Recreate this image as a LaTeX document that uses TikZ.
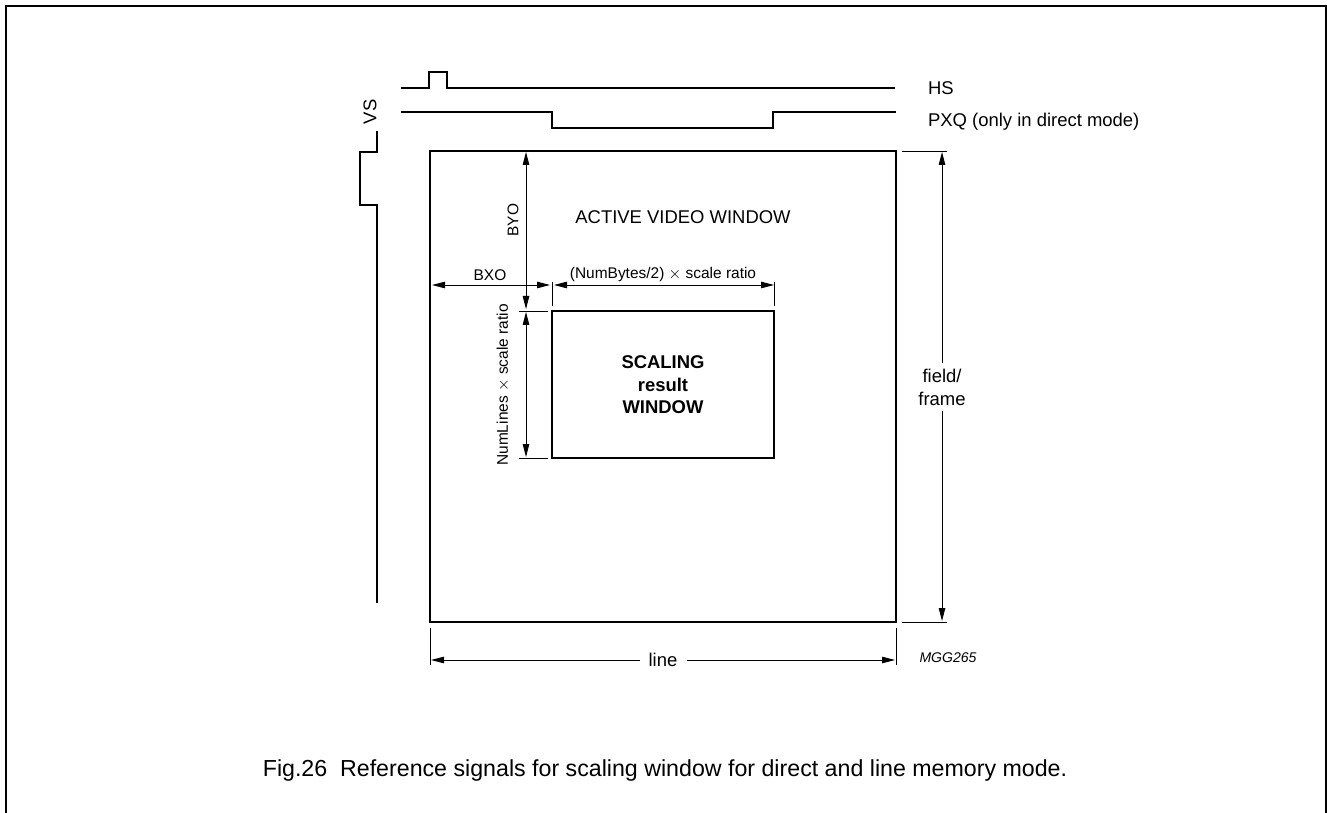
\documentclass[tikz,border=0pt]{standalone}
\usepackage{fontspec}
\setmainfont{Liberation Sans}
\usetikzlibrary{arrows.meta}

\begin{document}
\begin{tikzpicture}[x=0.02cm,y=-0.02cm,
        signal/.style={line width=.8pt},
        window/.style={line width=1.4pt},
        dim/.style={line width=.5pt,{Triangle[length=2.6mm,width=1.3mm]}-{Triangle[length=2.6mm,width=1.3mm]}},
        half dim/.style={line width=.5pt,-{Triangle[length=2.6mm,width=1.3mm]}},
        ext/.style={line width=.5pt},
        label/.style={font=\fontsize{10.5}{13}\selectfont,inner sep=1pt,align=center},
        small label/.style={font=\fontsize{8.8}{11}\selectfont,inner sep=1pt}]
        \useasboundingbox (0,0) rectangle (1327,813);
        % frame round the figure, open at the bottom
        \draw[line width=1.1pt] (6,813) -- (6,6) -- (1326,6) -- (1326,813);

        % reference signals
        \draw[signal] (401,88) -- (429,88) -- (429,72) -- (447,72) -- (447,88) -- (895,88);
        \draw[signal] (401,112) -- (552,112) -- (552,128) -- (773,128) -- (773,112) -- (896,112);
        \draw[signal] (377,131) -- (377,152) -- (360,152) -- (360,205) -- (377,205) -- (377,603);
        \node[label,anchor=west] (hs) at (926,88) {HS};
        \node[label,anchor=west] (pxq) at (926,122) {PXQ (only in direct mode)};
        \node[label,rotate=90] (vs) at (370,112) {VS};

        % active video window
        \coordinate (aw nw) at (430,151);
        \coordinate (aw se) at (896,622);
        \draw[window] (aw nw) rectangle (aw se);
        \node[label] (active) at (683,217) {ACTIVE VIDEO WINDOW};

        % scaling result window
        \coordinate (sw nw) at (552,311);
        \coordinate (sw se) at (774,458);
        \draw[line width=.9pt] (sw nw) rectangle (sw se);
        \node[label,font=\fontsize{10.5}{12.8}\selectfont\bfseries] (scaling) at (663,385) {SCALING\\result\\WINDOW};

        % offsets BXO and BYO
        \coordinate (bxo l) at (432,285);
        \coordinate (bxo r) at (550,285);
        \coordinate (byo t) at (526,152);
        \coordinate (byo b) at (526,309);
        \draw[dim] (bxo l) -- (bxo r);
        \draw[dim] (byo t) -- (byo b);
        \node[small label] (bxo) at (490,275) {BXO};
        \node[small label,rotate=90] (byo) at (513,220) {BYO};

        % size of the scaling window
        \coordinate (nb l) at (554,285);
        \coordinate (nb r) at (774,285);
        \coordinate (nl t) at (526,312);
        \coordinate (nl b) at (526,457);
        \draw[ext] (552,282) -- (552,306);
        \draw[ext] (774,282) -- (774,306);
        \draw[ext] (519,311) -- (548,311);
        \draw[ext] (519,458) -- (548,458);
        \draw[dim] (nb l) -- (nb r);
        \draw[dim] (nl t) -- (nl b);
        \node[small label] (numbytes) at (663,275) {(NumBytes/2) $\times$ scale ratio};
        \node[small label,rotate=90] (numlines) at (503,385) {NumLines $\times$ scale ratio};

        % field/frame
        \coordinate (ff t) at (942,152);
        \coordinate (ff b) at (942,621);
        \draw[ext] (902,151) -- (947,151);
        \draw[ext] (902,622) -- (947,622);
        \node[label,inner sep=3pt] (field) at (942,387) {field/\\frame};
        \draw[half dim] (field.north) -- (ff t);
        \draw[half dim] (field.south) -- (ff b);

        % line
        \coordinate (ln l) at (431,660);
        \coordinate (ln r) at (895,660);
        \draw[ext] (430,628) -- (430,665);
        \draw[ext] (896,628) -- (896,665);
        \node[label,inner sep=5pt] (line) at (663,660) {line};
        \draw[half dim] (line.west) -- (ln l);
        \draw[half dim] (line.east) -- (ln r);

        \node[font=\fontsize{8}{10}\selectfont\itshape] (mgg) at (948,658) {MGG265};

        % caption
        \node[font=\fontsize{13.2}{15}\selectfont] (caption) at (665,770)
          {Fig.26\ \ Reference signals for scaling window for direct and line memory mode.};
\end{tikzpicture}
\end{document}
